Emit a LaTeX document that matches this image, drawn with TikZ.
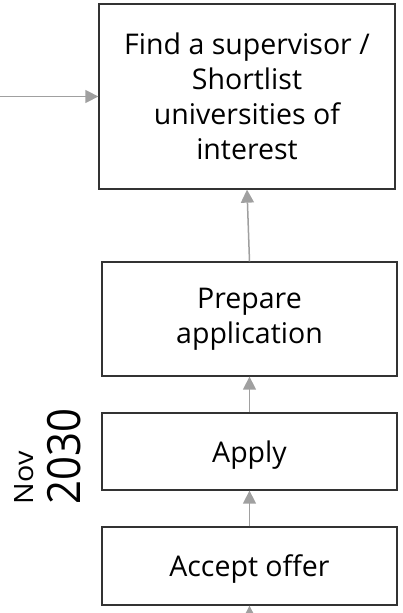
\documentclass[tikz,border=0pt]{standalone}
\usepackage{fontspec}
\usepackage{graphicx}
\setmainfont{Open Sans}
\usetikzlibrary{arrows.meta}
\definecolor{boxline}{HTML}{333333}
\definecolor{arrowgrey}{HTML}{A0A0A0}
\begin{document}
\begin{tikzpicture}[x=1pt,y=-1pt,
  stepbox/.style={draw=boxline,line width=1.3pt,fill=white,align=center,inner sep=0pt,
    font=\fontsize{28.5}{34.8}\selectfont,text=black},
  datelabel/.style={rotate=90,anchor=base west,inner sep=0pt},
  conn/.style={draw=arrowgrey,line width=1.5pt,-{Triangle[width=13pt,length=13pt]}}]
\useasboundingbox (0,0) rectangle (402,613);
\node[stepbox,minimum width=296pt,minimum height=185pt] (find) at (247,96.5)
  {Find a supervisor /\\Shortlist\\universities of\\interest};
\node[stepbox,minimum width=295pt,minimum height=114pt] (prep) at (249.5,319)
  {Prepare\\application};
\node[stepbox,minimum width=295pt,minimum height=77pt,text depth=0pt] (apply) at (249.5,451.5)
  {Apply};
\node[stepbox,minimum width=295pt,minimum height=78pt,text depth=0pt] (accept) at (249.5,566)
  {Accept offer};
\node[datelabel,font=\fontsize{26.6}{30}\selectfont] (nov) at (33.3,504.3) {\scalebox{1.08}[1]{Nov}};
\node[datelabel,font=\fontsize{45.8}{50}\selectfont] (yr) at (80,504.8) {\scalebox{0.915}[1]{2030}};
\coordinate (lft) at (-5,96.5);
\coordinate (bot) at (249.5,640);
\draw[conn] (lft) -- (find.west);
\draw[conn] (prep.north) -- (find.south);
\draw[conn] (apply.north) -- (prep.south);
\draw[conn] (accept.north) -- (apply.south);
\draw[conn] (bot) -- (accept.south);
\end{tikzpicture}
\end{document}
